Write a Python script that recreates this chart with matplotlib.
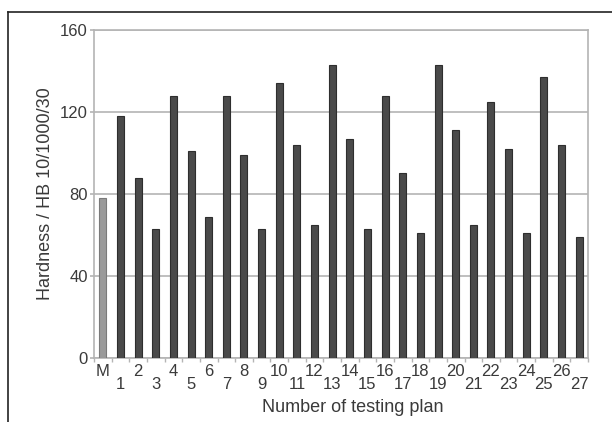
import matplotlib
matplotlib.use('Agg')
import matplotlib.pyplot as plt
import numpy as np
from matplotlib.lines import Line2D

plt.rcParams['font.family'] = ['Liberation Sans', 'DejaVu Sans']

# 数据
plans = ['M'] + [str(i) for i in range(1, 28)]
hardness = [78, 118, 88, 63, 128, 101, 69, 128, 99, 63, 134, 104, 65, 143,
            107, 63, 128, 90, 61, 143, 111, 65, 125, 102, 61, 137, 104, 59]
yticks = [0, 40, 80, 120, 160]

fig = plt.figure(figsize=(6.12, 4.22), dpi=100)
ax = fig.add_axes([94 / 612, 1 - 358 / 422, 494 / 612, 328 / 422])

x = np.arange(len(plans))
colors = ['#9a9a9a'] + ['#4a4a4a'] * (len(plans) - 1)
edges = ['#7a7a7a'] + ['#2e2e2e'] * (len(plans) - 1)
ax.bar(x, hardness, width=0.4, color=colors, edgecolor=edges, linewidth=0.8, zorder=3)

ax.set_xlim(-0.5, len(plans) - 0.5)
ax.set_ylim(0, 160)
ax.set_yticks(yticks)
ax.yaxis.grid(True, color='#b4b4b4', linewidth=1.2, zorder=0)

for s in ['top', 'right', 'left', 'bottom']:
    ax.spines[s].set_color('#b4b4b4')
    ax.spines[s].set_linewidth(1.2)

# 刻度标签交错排列
txt = '#3a3a3a'
ax.set_xticks(x[::2], plans[::2])
ax.set_xticks(x[1::2], plans[1::2], minor=True)
ax.tick_params(axis='x', which='major', length=0, pad=4.5, labelsize=12, labelcolor=txt)
ax.tick_params(axis='x', which='minor', length=0, pad=14, labelsize=12, labelcolor=txt)
ax.tick_params(axis='y', length=3, color='#b4b4b4', width=1.2, labelsize=12,
               labelcolor=txt, pad=1.5)

# 类别分界处的小刻度
sec = ax.secondary_xaxis('bottom')
sec.set_xticks(np.arange(-0.5, len(plans), 1.0))
sec.set_xticklabels([])
sec.tick_params(length=3, color='#b4b4b4', width=1)
sec.spines['bottom'].set_visible(False)

ax.set_xlabel('Number of testing plan', fontsize=13, color=txt)
ax.xaxis.set_label_coords(0.524, -0.125)
ax.set_ylabel('Hardness / HB 10/1000/30', fontsize=13, color=txt, labelpad=4)

# 外框
fig.add_artist(Line2D([8 / 612, 8 / 612], [0, 1 - 12 / 422], color='#222222', linewidth=1.2))
fig.add_artist(Line2D([8 / 612, 1], [1 - 12 / 422, 1 - 12 / 422], color='#222222', linewidth=1.2))

fig.savefig('out.png', dpi=100)
